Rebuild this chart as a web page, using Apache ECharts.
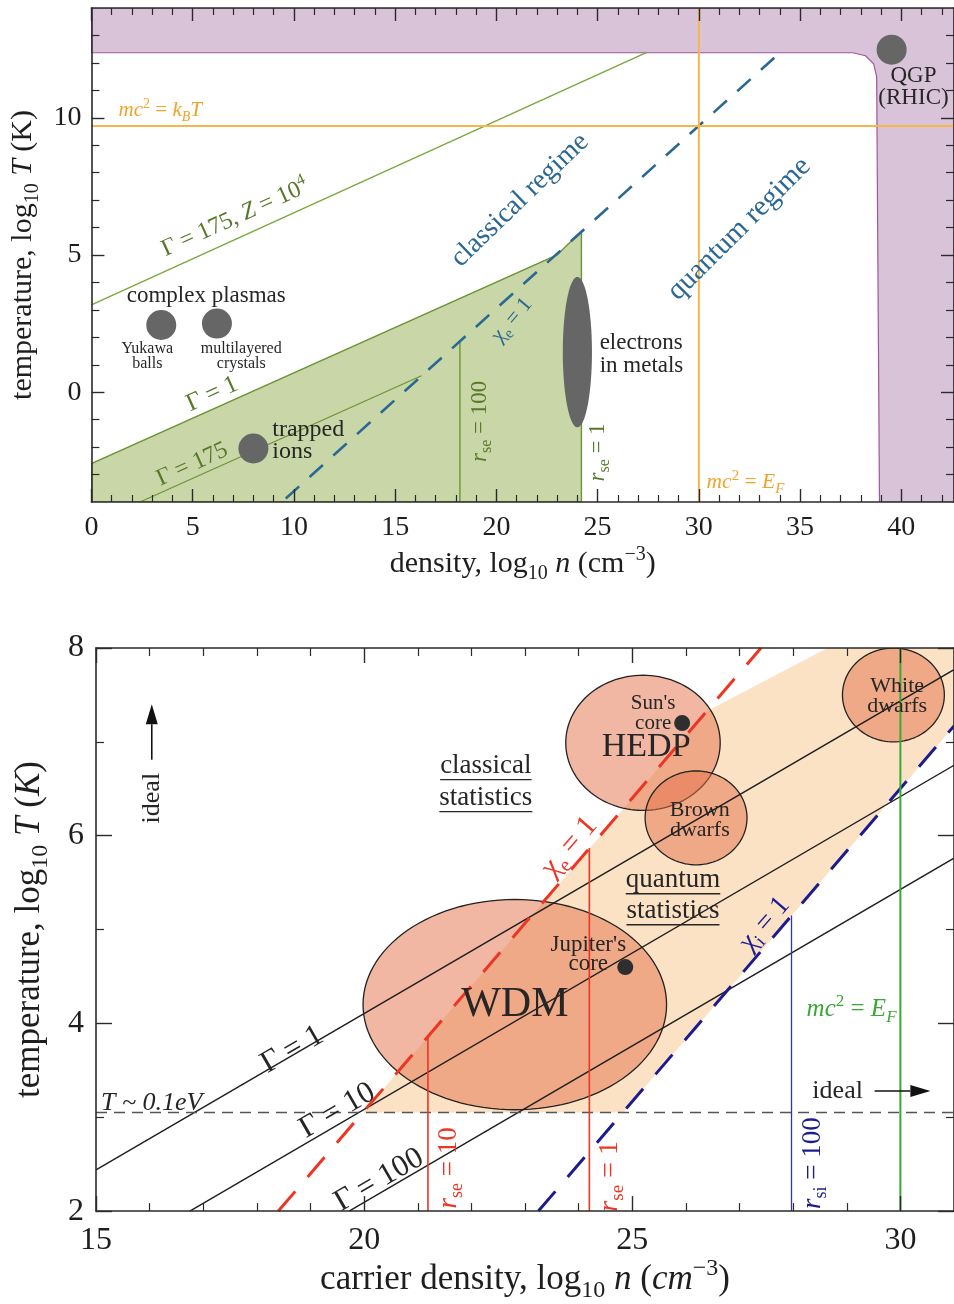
<!DOCTYPE html>
<html><head><meta charset="utf-8">
<script src="https://cdn.jsdelivr.net/npm/echarts@6/dist/echarts.min.js"></script>
<style>html,body{margin:0;padding:0;background:#fff}#c{width:954px;height:1304px}</style>
</head><body><div id="c"></div>
<script>
// ================= DATA : top panel (density vs temperature) =================
const topXRange = [0, 42.6];
const topYRange = [-4, 14];
const topXLabels = [0, 5, 10, 15, 20, 25, 30, 35, 40];
const topYLabels = [0, 5, 10];
const topXMinor = [1,2,3,4,6,7,8,9,11,12,13,14,16,17,18,19,21,22,23,24,26,27,28,29,31,32,33,34,36,37,38,39,41,42];
const topYMinor = [-3,-2,-1,1,2,3,4,6,7,8,9,11,12,13];
const purpleRegion = [[0,12.37],[37.6,12.37],[38.23,12.26],[38.63,11.97],[38.78,11.5],[38.92,-4],[42.6,-4],[42.6,14],[0,14]];
const greenRegion = [[0,-4],[0,-2.6],[23.0,5.0],[24.2,5.87],[24.2,-4]];
const topGammaZ = [[0,3.18],[27.4,12.37]];
const topGamma175 = [[2.4,-4],[16.3,0.6]];
const topRse100 = [[18.2,-4],[18.2,1.87]];
const topChiE = [[9.6,-3.87],[34.0,12.37]];
const topMcKT = [[0,9.7],[42.6,9.7]];
const topMcEF = [[30,-4],[30,14]];
const topDots = [[3.45,2.45],[6.2,2.5],[8.0,-2.05],[39.52,12.48]];
const electronsEllipse = [[24.0,1.46,0.72,2.74]];

// ================= DATA : bottom panel =================
const botXRange = [15, 31];
const botYRange = [2, 8];
const botXLabels = [15, 20, 25, 30];
const botYLabels = [2, 4, 6, 8];
const botXMinor = [16,17,18,19,21,22,23,24,26,27,28,29];
const botYMinor = [3,5,7];
const peachRegion = [[19.98,3.05],[26.4,7.33],[28.64,8],[31,8],[31,7.17],[24.83,3.05]];
const botGamma1 = [[15,2.44],[31,7.77]];
const botGamma10 = [[16.75,2],[31,6.75]];
const botGamma100 = [[19.72,2],[31,5.76]];
const botT01 = [[15,3.05],[31,3.05]];
const botChiE = [[18.4,2],[27.4,8]];
const botChiI = [[23.25,2],[31,7.17]];
const botRse10 = [[21.19,2],[21.19,3.86]];
const botRse1 = [[24.2,2],[24.2,5.87]];
const botRsi100 = [[27.97,2],[27.97,5.15]];
const botMcEF = [[30,2],[30,8]];
// ellipses: centre n, centre T, half-width (n), half-height (T)
const botEllipses = [[22.81,4.2,2.83,1.12],[25.2,6.99,1.44,0.72],[26.19,6.19,0.95,0.5],[29.87,7.5,0.95,0.5]];
const botDots = [[25.93,7.2],[24.87,4.6]];
const botArrows = [[16.04,6.81,16.04,7.40],[29.52,3.28,30.56,3.28]];

// ================= STYLE =================
const SERIF = '"Liberation Serif","DejaVu Serif",serif';
const INK = '#262626', AX = '#2a2a2a';
const BLUE = '#2b6893', OLIVE = '#56792a', GREEN_EDGE = '#6b9434', ORANGE = '#f0a328', ORANGE_LINE = '#f7b64a';
const RED = '#ee3524', NAVY = '#1c1c8f', GREEN = '#3aa836';

const topNotes = [
  {text:'complex plasmas', n:5.67, T:3.5, size:23},
  {text:'Yukawa\nballs', n:2.76, T:1.31, size:16, lh:15},
  {text:'multilayered\ncrystals', n:7.4, T:1.31, size:16, lh:15},
  {text:'trapped\nions', n:8.93, T:-1.75, size:24, lh:22, align:'left'},
  {text:'electrons\nin metals', n:25.1, T:1.39, size:23, lh:23, align:'left'},
  {text:'QGP\n(RHIC)', n:40.6, T:11.13, size:23, lh:22},
  {text:'classical regime', n:21.16, T:7.0, rot:44, size:28, color:BLUE},
  {text:'quantum regime', n:32.0, T:5.95, rot:45, size:29, color:BLUE},
  {rich:'{r|χ}{sub|e}{r| = 1}', n:20.77, T:2.63, rot:50, size:22, color:BLUE},
  {rich:'{r|Γ = 175, }{i|Z}{r| = 10}{sup|4}', n:7.1, T:6.35, rot:24.3, size:24, color:OLIVE},
  {text:'Γ = 1', n:5.97, T:-0.07, rot:24.3, size:25, color:OLIVE},
  {text:'Γ = 175', n:4.98, T:-2.63, rot:24.3, size:24, color:OLIVE},
  {rich:'{i|r}{sub|se}{r| = 100}', n:19.19, T:-1.06, rot:90, size:23, color:OLIVE},
  {rich:'{i|r}{sub|se}{r| = 1}', n:25.0, T:-2.19, rot:90, size:23, color:OLIVE},
  {rich:'{i|mc}{sup|2}{r| = }{i|k}{isub|B}{i|T}', n:3.4, T:10.26, size:21, color:ORANGE},
  {rich:'{i|mc}{sup|2}{r| = }{i|E}{isub|F}', n:32.3, T:-3.3, size:21.5, color:ORANGE}
];
const botNotes = [
  {text:'WDM', n:22.81, T:4.2, size:42},
  {text:'HEDP', n:25.26, T:6.94, size:34},
  {text:"Sun's\ncore", n:25.39, T:7.30, size:21, lh:20},
  {text:'Brown\ndwarfs', n:26.26, T:6.17, size:22, lh:20},
  {text:'White\ndwarfs', n:29.94, T:7.49, size:22, lh:20},
  {text:"Jupiter's\ncore", n:24.18, T:4.73, size:23, lh:19},
  {text:'classical\nstatistics', n:22.27, T:6.57, size:27, lh:32, underline:true},
  {text:'quantum\nstatistics', n:25.76, T:5.36, size:27, lh:31, underline:true},
  {text:'ideal', n:16.04, T:6.40, rot:90, size:26},
  {text:'ideal', n:28.83, T:3.28, size:26},
  {text:'T ~ 0.1eV', n:16.04, T:3.15, size:26, italic:true},
  {text:'Γ = 1', n:18.66, T:3.72, rot:30, size:31},
  {text:'Γ = 10', n:19.5, T:3.07, rot:30, size:31},
  {text:'Γ = 100', n:20.28, T:2.33, rot:30, size:31},
  {rich:'{r|χ}{sub|e}{r| = 1}', n:23.83, T:5.88, rot:49, size:30, color:RED},
  {rich:'{r|χ}{sub|i}{r| = 1}', n:27.47, T:5.06, rot:49, size:28, color:NAVY},
  {rich:'{i|r}{sub|se}{r| = 10}', n:21.58, T:2.46, rot:90, size:27, color:RED},
  {rich:'{i|r}{sub|se}{r| = 1}', n:24.57, T:2.37, rot:90, size:28, color:RED},
  {rich:'{i|r}{sub|si}{r| = 100}', n:28.36, T:2.51, rot:90, size:27, color:NAVY},
  {rich:'{i|mc}{sup|2}{r| = }{i|E}{isub|F}', n:29.09, T:4.15, size:25, color:GREEN}
];

// ================= HELPERS =================
const _ctx = document.createElement('canvas').getContext('2d');
function measure(s, f, it) { _ctx.font = (it ? 'italic ' : '') + f + 'px ' + SERIF; return _ctx.measureText(s).width; }
function makeRich(f, color) {
  const b = {fontFamily: SERIF, fill: color, color: color};
  const s = Math.round(f * 0.68), sl = Math.round(f * 0.8), L = Math.round(f * 1.3);
  return {
    r: Object.assign({}, b, {fontSize: f, lineHeight: L}),
    i: Object.assign({}, b, {fontSize: f, fontStyle: 'italic', lineHeight: L}),
    sub: Object.assign({}, b, {fontSize: s, lineHeight: sl, verticalAlign: 'bottom'}),
    isub: Object.assign({}, b, {fontSize: s, fontStyle: 'italic', lineHeight: sl, verticalAlign: 'bottom'}),
    sup: Object.assign({}, b, {fontSize: s, lineHeight: sl, verticalAlign: 'top'})
  };
}
function idx(gi) { return {xAxisIndex: gi * 4, yAxisIndex: gi * 4}; }
function poly(gi, pts, fill, stroke, lw, z) {
  return Object.assign({type: 'custom', z: z, silent: true, clip: true, data: [[pts[0][0], pts[0][1]]],
    renderItem: function (p, api) {
      return {type: 'polygon', shape: {points: pts.map(function (q) { return api.coord(q); })},
        style: {fill: fill, stroke: stroke || 'none', lineWidth: lw}};
    }}, idx(gi));
}
function line(gi, pts, color, w, type, z) {
  return Object.assign({type: 'line', z: z, silent: true, data: pts, symbol: 'none', showSymbol: false,
    lineStyle: {color: color, width: w, type: type}, clip: true}, idx(gi));
}
function ellipses(gi, items, fill, stroke, lw, z) {
  return Object.assign({type: 'custom', z: z, silent: true, clip: true, data: items, encode: {x: 0, y: 1},
    renderItem: function (p, api) {
      const c = api.coord([api.value(0), api.value(1)]);
      const s = api.size([api.value(2), api.value(3)]);
      const pts = [];
      for (let k = 0; k < 120; k++) { const a = k / 120 * 2 * Math.PI; pts.push([c[0] + s[0] * Math.cos(a), c[1] + s[1] * Math.sin(a)]); }
      return {type: 'polygon', shape: {points: pts}, style: {fill: fill, stroke: stroke || 'none', lineWidth: lw}};
    }}, idx(gi));
}
function dots(gi, pts, size, color, z) {
  return Object.assign({type: 'scatter', z: z, silent: true, data: pts, symbolSize: size, itemStyle: {color: color, opacity: 1}}, idx(gi));
}
function arrows(gi, items, z) {
  return Object.assign({type: 'custom', z: z, silent: true, clip: false, data: items, encode: {x: [0, 2], y: [1, 3]},
    renderItem: function (p, api) {
      const a = api.coord([api.value(0), api.value(1)]), b = api.coord([api.value(2), api.value(3)]);
      const ang = Math.atan2(b[1] - a[1], b[0] - a[0]), L = 20, W = 6;
      const bx = b[0] - L * Math.cos(ang), by = b[1] - L * Math.sin(ang);
      return {type: 'group', children: [
        {type: 'line', shape: {x1: a[0], y1: a[1], x2: bx, y2: by}, style: {stroke: '#111', lineWidth: 1.6}},
        {type: 'polygon', shape: {points: [b, [bx - W * Math.sin(ang), by + W * Math.cos(ang)], [bx + W * Math.sin(ang), by - W * Math.cos(ang)]]}, style: {fill: '#111'}}
      ]};
    }}, idx(gi));
}
function texts(gi, notes, z) {
  return Object.assign({type: 'custom', z: z, silent: true, clip: false, data: notes.map(function (o) { return [o.n, o.T]; }), encode: {x: 0, y: 1},
    renderItem: function (p, api) {
      const o = notes[p.dataIndex];
      const c = api.coord([api.value(0), api.value(1)]);
      const color = o.color || INK, f = o.size;
      const lines = (o.rich || o.text).split('\n');
      const lh = o.lh || Math.round(f * 1.2);
      const children = [];
      lines.forEach(function (s, k) {
        const y = (k - (lines.length - 1) / 2) * lh;
        const style = {text: s, fontFamily: SERIF, fontSize: f, fontStyle: o.italic ? 'italic' : 'normal', fill: color,
          align: o.align || 'center', verticalAlign: 'middle'};
        if (o.rich) style.rich = makeRich(f, color);
        children.push({type: 'text', x: 0, y: y, style: style});
        if (o.underline) {
          const w = measure(s, f, o.italic);
          const x0 = o.align === 'left' ? 0 : -w / 2;
          children.push({type: 'line', shape: {x1: x0, y1: y + f * 0.5, x2: x0 + w, y2: y + f * 0.5}, style: {stroke: color, lineWidth: 1.3}});
        }
      });
      return {type: 'group', x: c[0], y: c[1], rotation: (o.rot || 0) * Math.PI / 180, children: children};
    }}, idx(gi));
}
function axisPair(gi, pos, range, major, minor, labels, majLen, minLen, labSize, labMargin, nameCfg) {
  const common = {type: 'value', gridIndex: gi, position: pos, min: range[0], max: range[1], z: 50, splitLine: {show: false}, axisPointer: {show: false}};
  const main = Object.assign({}, common, {
    axisLine: {show: true, onZero: false, lineStyle: {color: AX, width: 1.6}},
    axisTick: {show: true, inside: true, length: majLen, customValues: major, lineStyle: {color: AX, width: 1.4}},
    axisLabel: labels ? {show: true, customValues: labels, fontFamily: SERIF, fontSize: labSize, color: '#1e1e1e', margin: labMargin} : {show: false}
  }, nameCfg || {});
  const mn = Object.assign({}, common, {
    axisLine: {show: false, onZero: false},
    axisTick: {show: true, inside: true, length: minLen, customValues: minor, lineStyle: {color: AX, width: 1.2}},
    axisLabel: {show: false}
  });
  return [main, mn];
}
function nameCfg(name, size, gap) {
  return {name: name, nameLocation: 'middle', nameGap: gap,
    nameTextStyle: {fontFamily: SERIF, fontSize: size, color: '#1e1e1e', rich: makeRich(size, '#1e1e1e')}};
}

// ================= OPTION =================
const xAxis = [].concat(
  axisPair(0, 'bottom', topXRange, topXLabels, topXMinor, topXLabels, 13, 7, 28, 12,
    nameCfg('{r|density, log}{sub|10}{i| n}{r| (cm}{sup|−3}{r|)}', 30, 43)),
  axisPair(0, 'top', topXRange, topXLabels, topXMinor, null, 13, 7),
  axisPair(1, 'bottom', botXRange, botXLabels, botXMinor, botXLabels, 15, 8, 32, 13,
    nameCfg('{r|carrier density, log}{sub|10}{i| n}{r| (}{i|cm}{sup|−3}{r|)}', 35, 42)),
  axisPair(1, 'top', botXRange, botXLabels, botXMinor, null, 15, 8)
);
const yAxis = [].concat(
  axisPair(0, 'left', topYRange, topYLabels, topYMinor, topYLabels, 13, 8, 28, 10,
    nameCfg('{r|temperature, log}{sub|10}{i| T}{r| (K)}', 30, 47)),
  axisPair(0, 'right', topYRange, topYLabels, topYMinor, null, 13, 8),
  axisPair(1, 'left', botYRange, botYLabels, botYMinor, botYLabels, 16, 8, 32, 12,
    nameCfg('{r|temperature, log}{sub|10}{i| T}{r| (}{i|K}{r|)}', 35, 43)),
  axisPair(1, 'right', botYRange, botYLabels, botYMinor, null, 16, 8)
);

const series = [
  // top panel
  poly(0, purpleRegion, '#d9c3d9', '#a0569e', 1.2, 1),
  poly(0, greenRegion, '#c9d6a7', GREEN_EDGE, 1.4, 2),
  line(0, topGammaZ, '#7aa83c', 1.4, 'solid', 3),
  line(0, topGamma175, GREEN_EDGE, 1.3, 'solid', 3),
  line(0, topRse100, GREEN_EDGE, 1.4, 'solid', 3),
  line(0, topChiE, BLUE, 2.6, [18, 14], 4),
  line(0, topMcKT, ORANGE_LINE, 2, 'solid', 4),
  line(0, topMcEF, ORANGE_LINE, 2, 'solid', 4),
  ellipses(0, electronsEllipse, '#666666', null, 0, 5),
  dots(0, topDots, 30, '#666666', 6),
  texts(0, topNotes, 10),
  // bottom panel
  poly(1, peachRegion, '#fbe2c5', null, 0, 1),
  ellipses(1, botEllipses, 'rgba(228,112,72,0.5)', '#222', 1.3, 2),
  line(1, botGamma1, '#1e1e1e', 1.4, 'solid', 3),
  line(1, botGamma10, '#1e1e1e', 1.4, 'solid', 3),
  line(1, botGamma100, '#1e1e1e', 1.4, 'solid', 3),
  line(1, botT01, '#555555', 1.6, [11, 7], 3),
  line(1, botChiE, RED, 3, [26, 19], 4),
  line(1, botChiI, NAVY, 3, [26, 19], 4),
  line(1, botRse10, RED, 1.6, 'solid', 4),
  line(1, botRse1, RED, 1.6, 'solid', 4),
  line(1, botRsi100, '#3434a6', 1.3, 'solid', 4),
  line(1, botMcEF, GREEN, 2, 'solid', 4),
  dots(1, botDots, 16, '#2e2e2e', 6),
  arrows(1, botArrows, 7),
  texts(1, botNotes, 10)
];

const chart = echarts.init(document.getElementById('c'), null, {renderer: 'canvas'});
chart.setOption({
  animation: false,
  backgroundColor: '#ffffff',
  textStyle: {fontFamily: SERIF},
  grid: [
    {left: 91, top: 8, width: 864, height: 494, containLabel: false},
    {left: 96, top: 648, width: 861, height: 567, containLabel: false}
  ],
  xAxis: xAxis,
  yAxis: yAxis,
  series: series
});
</script></body></html>
